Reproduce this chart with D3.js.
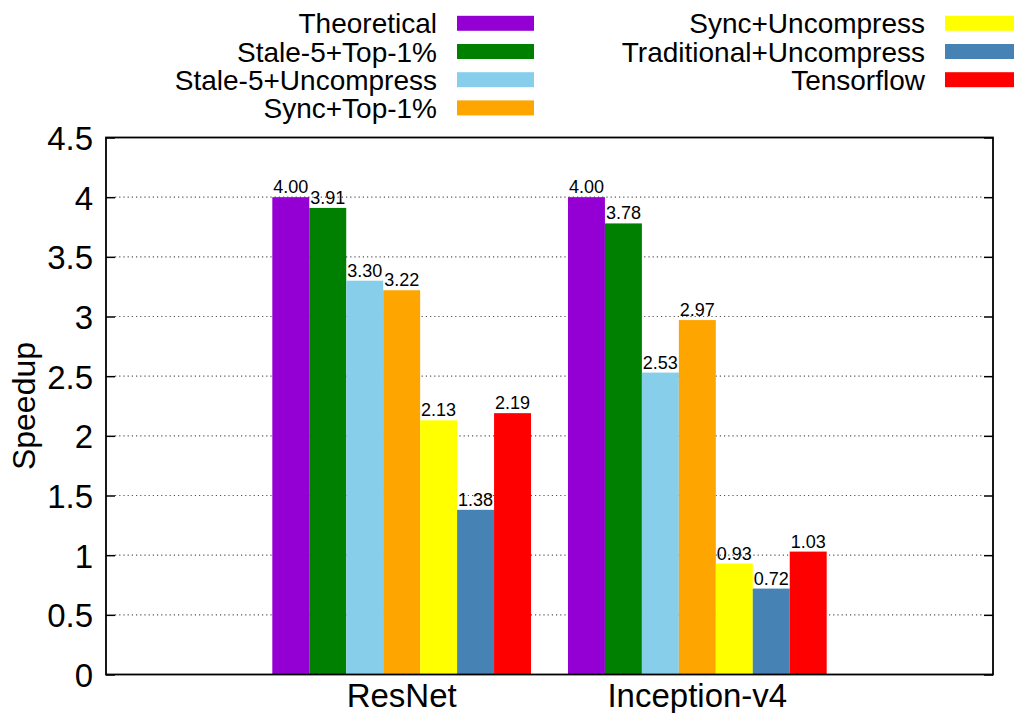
<!DOCTYPE html>
<html>
<head>
<meta charset="utf-8">
<script src="https://cdn.jsdelivr.net/npm/d3@7"></script>
<style>
  html, body { margin: 0; padding: 0; background: #fff; }
  svg { display: block; }
  text { font-family: "Liberation Sans", Arial, Helvetica, sans-serif; fill: #000; }
</style>
</head>
<body>
<svg id="chart" width="1014" height="713"></svg>
<script>
const categories = ["ResNet", "Inception-v4"];
const seriesNames = ["Theoretical", "Stale-5+Top-1%", "Stale-5+Uncompress", "Sync+Top-1%",
                     "Sync+Uncompress", "Traditional+Uncompress", "Tensorflow"];
const seriesColors = ["#9400D3", "#008000", "#87CEEB", "#FFA500", "#FFFF00", "#4682B4", "#FF0000"];
const resnetValues = [4.00, 3.91, 3.30, 3.22, 2.13, 1.38, 2.19];
const inceptionValues = [4.00, 3.78, 2.53, 2.97, 0.93, 0.72, 1.03];
const yTicks = [0, 0.5, 1, 1.5, 2, 2.5, 3, 3.5, 4, 4.5];
const yTickLabels = ["0", "0.5", "1", "1.5", "2", "2.5", "3", "3.5", "4", "4.5"];
const valueLabels = [
  ["4.00", "3.91", "3.30", "3.22", "2.13", "1.38", "2.19"],
  ["4.00", "3.78", "2.53", "2.97", "0.93", "0.72", "1.03"]
];
const groupValues = [resnetValues, inceptionValues];

(function () {
const svg = d3.select("#chart");
const pLeft = 106, pRight = 993, pTop = 137.5, pBottom = 674.5;

const x = d3.scaleLinear().domain([-1, 2]).range([pLeft, pRight]);
const y = d3.scaleLinear().domain([0, 4.5]).range([pBottom, pTop]);
const slot = 1 / 8; // 7 bars + 1 gap per group
const barW = x(slot) - x(0);

// grid (behind)
svg.append("g").selectAll("line")
  .data(yTicks.filter(t => t > 0 && t < 4.5))
  .join("line")
  .attr("x1", pLeft + 9).attr("x2", pRight - 9)
  .attr("y1", d => y(d)).attr("y2", d => y(d))
  .attr("stroke", "#555").attr("stroke-width", 1.2)
  .attr("stroke-dasharray", "1.2,3");

// bars
const bars = [];
groupValues.forEach((vals, gi) => {
  vals.forEach((v, si) => {
    bars.push({ g: gi, s: si, v: v, label: valueLabels[gi][si] });
  });
});
svg.append("g").selectAll("rect")
  .data(bars)
  .join("rect")
  .attr("x", d => x(d.g + (d.s - 3.5) * slot))
  .attr("width", barW)
  .attr("y", d => y(d.v))
  .attr("height", d => y(0) - y(d.v))
  .attr("fill", d => seriesColors[d.s]);

// value labels
svg.append("g").selectAll("text")
  .data(bars)
  .join("text")
  .attr("x", d => x(d.g + (d.s - 3) * slot))
  .attr("y", d => y(d.v) - 4)
  .attr("text-anchor", "middle")
  .attr("font-size", 18)
  .text(d => d.label);

// border
svg.append("rect")
  .attr("x", pLeft).attr("y", pTop)
  .attr("width", pRight - pLeft).attr("height", pBottom - pTop)
  .attr("fill", "none").attr("stroke", "#000").attr("stroke-width", 1.8);

// y ticks (left and mirrored right)
const yAxisL = d3.axisLeft(y).tickValues(yTicks).tickSize(-9).tickPadding(13)
  .tickFormat((d, i) => yTickLabels[i]);
const gl = svg.append("g").attr("transform", `translate(${pLeft},0)`).call(yAxisL);
gl.select(".domain").remove();
gl.selectAll("line").attr("stroke", "#000").attr("stroke-width", 1.5);
gl.selectAll("text").attr("font-size", 33).attr("dy", "0.36em")
  .style("font-family", '"Liberation Sans", Arial, sans-serif');

const yAxisR = d3.axisRight(y).tickValues(yTicks).tickSize(-9).tickFormat("");
const gr = svg.append("g").attr("transform", `translate(${pRight},0)`).call(yAxisR);
gr.select(".domain").remove();
gr.selectAll("line").attr("stroke", "#000").attr("stroke-width", 1.5);

// x labels
svg.append("g").selectAll("text")
  .data(categories)
  .join("text")
  .attr("x", (d, i) => x(i))
  .attr("y", 707)
  .attr("text-anchor", "middle")
  .attr("font-size", 33)
  .text(d => d);

// y label
svg.append("text")
  .attr("transform", `translate(35,${(pTop + pBottom) / 2}) rotate(-90)`)
  .attr("text-anchor", "middle")
  .attr("font-size", 32)
  .text("Speedup");

// legend
const legendCols = [
  { textX: 437, swX: 457, items: [0, 1, 2, 3] },
  { textX: 925, swX: 945, items: [4, 5, 6] }
];
const legend = svg.append("g");
legendCols.forEach(col => {
  col.items.forEach((si, ri) => {
    const cy = 23.3 + ri * 28.2;
    legend.append("text")
      .attr("x", col.textX).attr("y", cy + 10)
      .attr("text-anchor", "end")
      .attr("font-size", 28)
      .text(seriesNames[si]);
    legend.append("rect")
      .attr("x", col.swX).attr("y", cy - 7.5)
      .attr("width", 77).attr("height", 15)
      .attr("fill", seriesColors[si]);
  });
});
})();
</script>
</body>
</html>
